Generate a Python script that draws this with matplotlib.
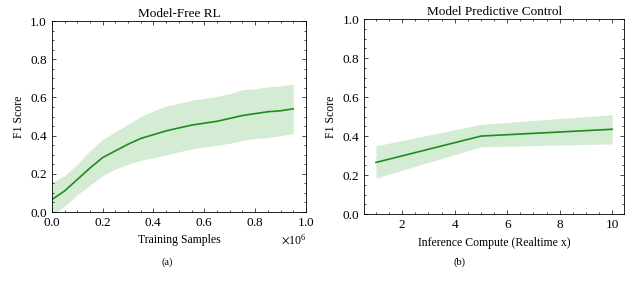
import matplotlib.pyplot as plt
from matplotlib.ticker import AutoMinorLocator

plt.rcParams['font.family'] = ['Liberation Serif', 'DejaVu Serif']
plt.rcParams['mathtext.fontset'] = 'stix'

# Model-free RL: training samples vs F1 score
rl_samples = [0, 50000, 100000, 150000, 200000, 250000, 300000, 350000, 400000, 450000,
              500000, 550000, 600000, 650000, 700000, 750000, 800000, 850000, 900000, 950000]
rl_mean = [0.065, 0.11, 0.17, 0.23, 0.285, 0.32, 0.355, 0.385, 0.405, 0.425,
           0.44, 0.455, 0.465, 0.475, 0.49, 0.505, 0.515, 0.525, 0.53, 0.54]
rl_upper = [0.155, 0.19, 0.25, 0.32, 0.38, 0.42, 0.46, 0.50, 0.53, 0.555,
            0.57, 0.585, 0.595, 0.605, 0.62, 0.64, 0.645, 0.655, 0.66, 0.67]
rl_lower = [-0.02, 0.03, 0.09, 0.14, 0.19, 0.225, 0.25, 0.27, 0.285, 0.30,
            0.315, 0.33, 0.34, 0.35, 0.36, 0.375, 0.385, 0.39, 0.40, 0.41]

# Model predictive control: inference compute vs F1 score
mpc_compute = [1, 5, 10]
mpc_mean = [0.265, 0.40, 0.435]
mpc_upper = [0.35, 0.46, 0.51]
mpc_lower = [0.185, 0.345, 0.36]

line_color = '#1e8c1e'
band_color = '#2ca02c'

fig = plt.figure(figsize=(6.4, 2.84), dpi=100)
ax1 = fig.add_axes([0.081, 0.2535, 0.397, 0.6725])
ax2 = fig.add_axes([0.569, 0.246, 0.406, 0.687])

ax1.fill_between(rl_samples, rl_lower, rl_upper, color=band_color, alpha=0.2, linewidth=0)
ax1.plot(rl_samples, rl_mean, color=line_color, linewidth=1.2)
ax1.set_xlim(0, 1e6)
ax1.set_ylim(0, 1)
ax1.ticklabel_format(axis='x', style='sci', scilimits=(0, 0), useMathText=True)
ax1.set_title('Model-Free RL', fontsize=9.5, pad=3)
ax1.set_xlabel('Training Samples', fontsize=8.5)
ax1.set_ylabel('F1 Score', fontsize=8.5)

ax2.fill_between(mpc_compute, mpc_lower, mpc_upper, color=band_color, alpha=0.2, linewidth=0)
ax2.plot(mpc_compute, mpc_mean, color=line_color, linewidth=1.2)
ax2.set_ylim(0, 1)
ax2.set_xticks([2, 4, 6, 8, 10])
ax2.set_title('Model Predictive Control', fontsize=9.5, pad=3)
ax2.set_xlabel('Inference Compute (Realtime x)', fontsize=8.5)
ax2.set_ylabel('F1 Score', fontsize=8.5)

for ax in (ax1, ax2):
    ax.xaxis.set_minor_locator(AutoMinorLocator(4))
    ax.yaxis.set_minor_locator(AutoMinorLocator(4))
    ax.tick_params(which='both', direction='in', top=True, right=True, labelsize=9.5, width=0.5)
    ax.tick_params(which='major', length=3)
    ax.tick_params(which='minor', length=1.5)
    for s in ax.spines.values():
        s.set_linewidth(0.6)

ax1.xaxis.get_offset_text().set_fontsize(8.5)

fig.text(167 / 640, 1 - 262 / 284, '(a)', ha='center', va='center', fontsize=7.5)
fig.text(459 / 640, 1 - 262 / 284, '(b)', ha='center', va='center', fontsize=7.5)

fig.savefig('out.png', dpi=100)
